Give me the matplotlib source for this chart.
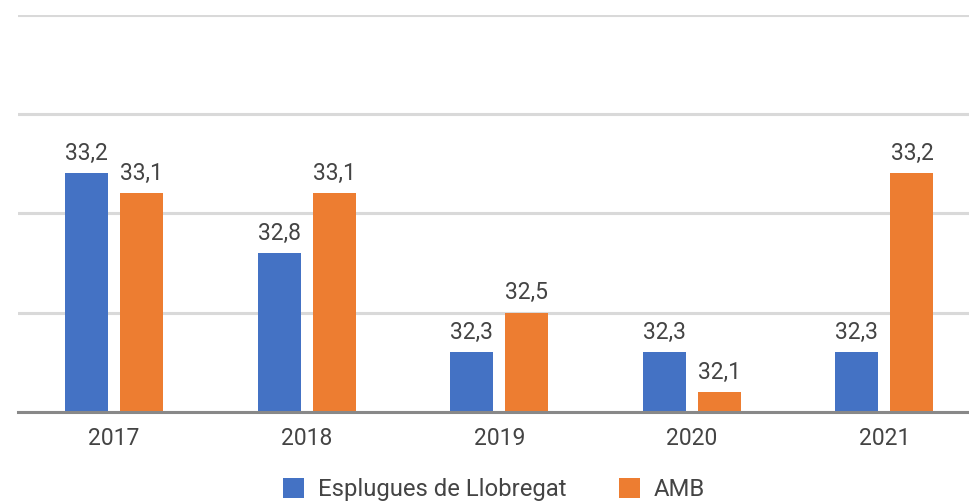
import matplotlib
matplotlib.use("Agg")
import matplotlib.pyplot as plt
import numpy as np

years = ["2017", "2018", "2019", "2020", "2021"]
esplugues = [33.2, 32.8, 32.3, 32.3, 32.3]
amb = [33.1, 33.1, 32.5, 32.1, 33.2]
series_names = ["Esplugues de Llobregat", "AMB"]
colors = ["#4472C4", "#ED7D31"]

plt.rcParams['font.family'] = ['Roboto', 'DejaVu Sans']
text_color = "#444444"
fs = 16.5
lfs = 17.2

W, H = 970, 503
fig = plt.figure(figsize=(W / 100, H / 100), dpi=100)
left = 17.7 / W
top = 1 - 14.5 / H
bottom = 1 - 412 / H
ax = fig.add_axes([left, bottom, 1 - left, top - bottom])

x = np.arange(len(years))
bw = 0.223
off = 0.143
b1 = ax.bar(x - off, esplugues, bw, color=colors[0], label=series_names[0], zorder=3)
b2 = ax.bar(x + off, amb, bw, color=colors[1], label=series_names[1], zorder=3)

fmt = lambda v: f"{v:.1f}".replace(".", ",")
for bars, vals in ((b1, esplugues), (b2, amb)):
    ax.bar_label(bars, labels=[fmt(v) for v in vals], padding=6, fontsize=fs, color=text_color)

ax.set_ylim(32, 34)
ax.set_yticks([32, 32.5, 33, 33.5, 34])
ax.yaxis.grid(True, color="#d9d9d9", linewidth=2.2, zorder=0)
ax.set_axisbelow(True)
ax.tick_params(axis='y', left=False, labelleft=False)
ax.set_xlim(-0.5, (W - 17.7) / 192.6 - 0.5)
ax.set_xticks(x)
ax.set_xticklabels(years, fontsize=fs, color=text_color)
ax.tick_params(axis='x', length=0, pad=11)
for s in ["top", "right", "left"]:
    ax.spines[s].set_visible(False)
ax.spines["bottom"].set_color("#888888")
ax.spines["bottom"].set_linewidth(2.2)
ax.spines["bottom"].set_zorder(4)

fig.legend(handles=[b1, b2], labels=series_names, loc="center",
           bbox_to_anchor=(494 / W, 1 - 489.5 / H), ncol=2, frameon=False,
           fontsize=lfs, labelcolor=text_color, handlelength=0.88, handleheight=0.88,
           handletextpad=0.58, columnspacing=2.2, borderpad=0, borderaxespad=0)

fig.savefig("out.png", dpi=100)
